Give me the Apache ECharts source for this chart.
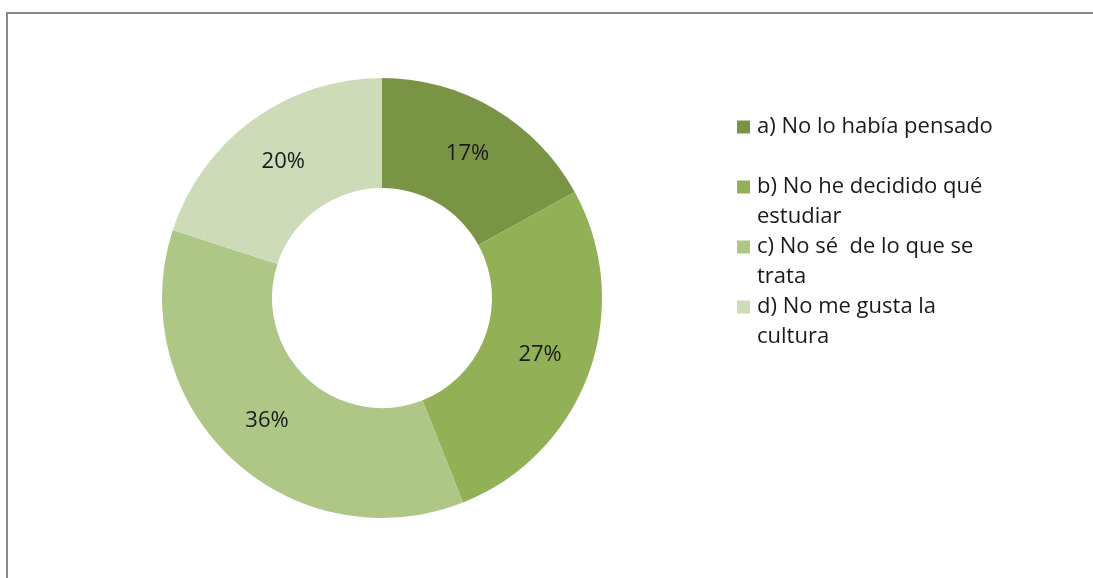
<!DOCTYPE html>
<html>
<head>
<meta charset="utf-8">
<script src="https://cdn.jsdelivr.net/npm/echarts@6/dist/echarts.min.js"></script>
<style>
html,body{margin:0;padding:0;background:#fff;}
#chart{width:1093px;height:578px;}
</style>
</head>
<body>
<div id="chart"></div>
<script>
const categories = ["a) No lo había pensado", "b) No he decidido qué estudiar", "c) No sé  de lo que se trata", "d) No me gusta la cultura"];
const values = [17, 27, 36, 20];
const legendLines = [
  ["a) No lo había pensado", " "],
  ["b) No he decidido qué", "estudiar"],
  ["c) No sé  de lo que se", "trata"],
  ["d) No me gusta la", "cultura"]
];
const colors = ["#7a9445", "#92b157", "#aec787", "#cedbb8"];

const chart = echarts.init(document.getElementById('chart'));
const rich = {
  g: { width: 7 },
  p: { width: 20 },
  t: { fontFamily: 'Open Sans', fontSize: 22, color: '#1a1a1a', lineHeight: 30 }
};
colors.forEach((c, i) => { rich['s' + i] = { width: 13, height: 13, backgroundColor: c }; });

chart.setOption({
  animation: false,
  color: colors,
  graphic: [{
    type: 'rect',
    shape: { x: 7, y: 13, width: 1200, height: 700 },
    style: { fill: 'none', stroke: '#8a8a8a', lineWidth: 2 },
    silent: true
  }],
  legend: {
    orient: 'vertical',
    left: 732,
    top: 112,
    padding: 0,
    itemGap: 0,
    itemWidth: 0,
    itemHeight: 0,
    selectedMode: false,
    data: categories,
    formatter: function (name) {
      const i = categories.indexOf(name);
      const l = legendLines[i];
      return '{s' + i + '|}{g|}{t|' + l[0] + '}\n{p|}{t|' + l[1] + '}';
    },
    textStyle: { fontFamily: 'Open Sans', fontSize: 22, lineHeight: 30, rich: rich }
  },
  series: [{
    type: 'pie',
    center: [382, 298],
    radius: [110, 220],
    startAngle: 90,
    clockwise: true,
    avoidLabelOverlap: false,
    label: {
      show: true,
      position: 'inside',
      formatter: '{c}%',
      fontFamily: 'Open Sans',
      fontSize: 22,
      color: '#1a1a1a'
    },
    labelLine: { show: false },
    emphasis: { disabled: true },
    data: categories.map((n, i) => ({ name: n, value: values[i] }))
  }]
});
</script>
</body>
</html>
